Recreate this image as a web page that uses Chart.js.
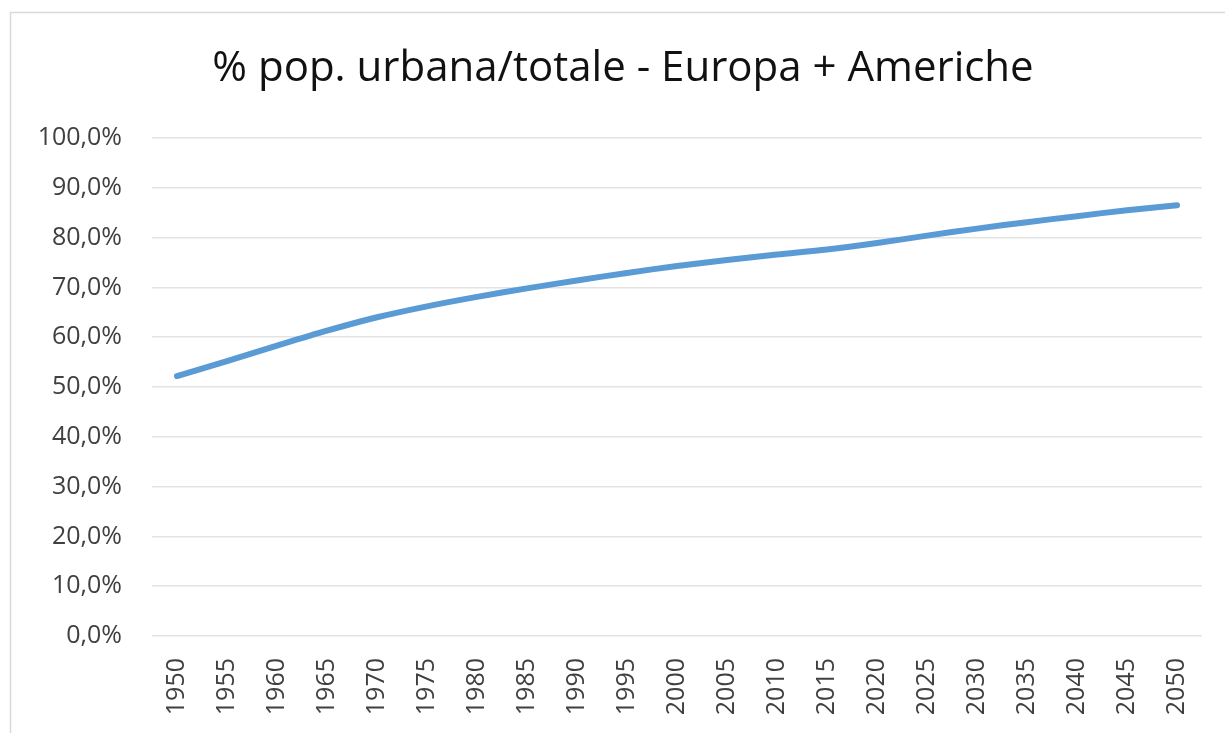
<!DOCTYPE html>
<html>
<head>
<meta charset="utf-8">
<title>% pop. urbana/totale - Europa + Americhe</title>
<script src="https://cdn.jsdelivr.net/npm/chart.js@4.4.1/dist/chart.umd.min.js"></script>
<style>
  html, body { margin: 0; padding: 0; background: #fff; }
  #wrap { width: 1225px; height: 733px; position: relative; }
</style>
</head>
<body>
<div id="wrap"><canvas id="urbChart" width="1225" height="733"></canvas></div>
<script>
// Anni e quota di popolazione urbana (%)
const years = ['1950','1955','1960','1965','1970','1975','1980','1985','1990','1995','2000',
               '2005','2010','2015','2020','2025','2030','2035','2040','2045','2050'];
const urbanShare = [52.2, 55.2, 58.3, 61.3, 64.0, 66.2, 68.1, 69.8, 71.4, 72.9, 74.3,
                    75.5, 76.6, 77.6, 78.9, 80.4, 81.8, 83.1, 84.3, 85.5, 86.5];
const chartTitle = '% pop. urbana/totale - Europa + Americhe';

const fontFam = '"Open Sans", sans-serif';

// cornice grigia attorno al grafico + titolo centrato un po' più a destra
const frame = {
  id: 'frame',
  afterLayout(chart) {
    if (chart.titleBlock) {
      chart.titleBlock.left = 44;
      chart.titleBlock.right = chart.width - 23;
    }
  },
  beforeDraw(chart) {
    const c = chart.ctx;
    c.save();
    c.fillStyle = '#fff';
    c.fillRect(0, 0, chart.width, chart.height);
    c.strokeStyle = '#d9d9d9';
    c.lineWidth = 1.5;
    c.strokeRect(10.5, 12.5, chart.width + 10, chart.height + 10);
    c.restore();
  }
};

new Chart(document.getElementById('urbChart'), {
  type: 'line',
  data: {
    labels: years,
    datasets: [{
      data: urbanShare,
      borderColor: '#5b9bd5',
      borderWidth: 6,
      borderCapStyle: 'round',
      borderJoinStyle: 'round',
      pointRadius: 0,
      tension: 0.3,
      fill: false
    }]
  },
  options: {
    responsive: false,
    animation: false,
    layout: { padding: { left: 0, right: 23, top: 0, bottom: 0 } },
    plugins: {
      legend: { display: false },
      tooltip: { enabled: false },
      title: {
        display: true,
        text: chartTitle,
        color: '#111',
        font: { family: fontFam, size: 42, weight: 'normal', lineHeight: 1.2 },
        padding: { top: 44, bottom: 43.6 }
      }
    },
    scales: {
      x: {
        offset: true,
        grid: { display: false },
        border: { display: false },
        ticks: {
          color: '#404040',
          font: { family: fontFam, size: 25 },
          minRotation: 90,
          maxRotation: 90,
          autoSkip: false,
          padding: 14
        },
        afterFit(scale) { scale.height = 97; }
      },
      y: {
        min: 0,
        max: 100,
        ticks: {
          stepSize: 10,
          color: '#404040',
          font: { family: fontFam, size: 25 },
          padding: 30,
          callback: v => v.toFixed(1).replace('.', ',') + '%'
        },
        grid: { color: '#e3e3e3', lineWidth: 1.5, drawTicks: false },
        border: { display: false },
        afterFit(scale) { scale.width = 152; }
      }
    }
  },
  plugins: [frame]
});
</script>
</body>
</html>
